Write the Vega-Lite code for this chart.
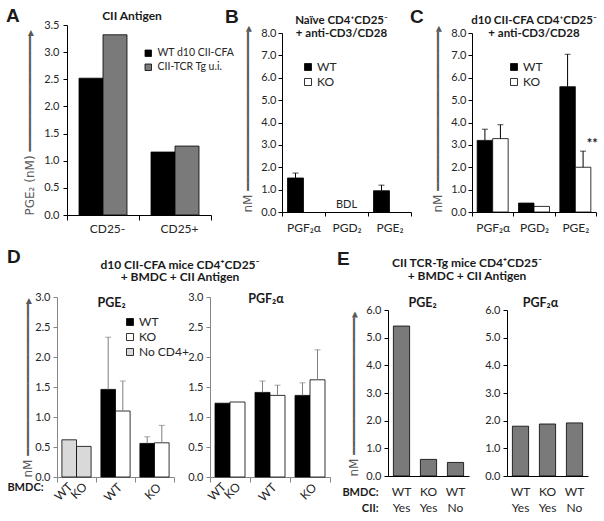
{
  "$schema": "https://vega.github.io/schema/vega-lite/v6.json",
  "padding": {"left": 6, "top": 7, "right": 0, "bottom": 0},
  "config": {
    "view": {"stroke": null},
    "font": "Lato",
    "axis": {"grid": false, "labelOverlap": false, "labelFont": "Lato", "titleFont": "DejaVu Sans", "labelColor": "#262626", "titleColor": "#595959", "labelFontSize": 11, "domainColor": "#000000", "tickColor": "#000000", "titleFontWeight": "normal"},
    "title": {"font": "Lato", "fontWeight": "bold", "color": "#1a1a1a", "fontSize": 12, "frame": "group", "baseline": "bottom"},
    "legend": {"labelFont": "Lato", "labelColor": "#262626"}
  },
  "bounds": "flush",
  "align": "each",
  "spacing": 272,
  "resolve": {"scale": {"fill": "independent"}, "legend": {"fill": "independent"}},
  "vconcat": [
    {
      "bounds": "flush", "align": "each", "spacing": 8,
      "resolve": {"scale": {"fill": "independent"}, "legend": {"fill": "independent"}},
      "vconcat": [
        {
          "bounds": "flush", "align": "each", "spacing": 0,
          "resolve": {"scale": {"fill": "independent"}, "legend": {"fill": "independent"}},
          "hconcat": [
            {"width": 55, "height": 190, "data": {"values": []}, "mark": "rect",
             "title": {"text": "A", "anchor": "start", "dx": -6, "offset": -1, "fontSize": 19, "font": "Liberation Sans"}},
            {
              "width": 144, "height": 190,
              "title": {"text": "CII Antigen", "dx": -7, "offset": -4},
              "data": {"values": [
                {"cells": "CD25-", "mice": "WT d10 CII-CFA", "pge2": 2.52},
                {"cells": "CD25-", "mice": "CII-TCR Tg u.i.", "pge2": 3.32},
                {"cells": "CD25+", "mice": "WT d10 CII-CFA", "pge2": 1.16},
                {"cells": "CD25+", "mice": "CII-TCR Tg u.i.", "pge2": 1.27}
              ]},
              "encoding": {
                "x": {"field": "cells", "type": "nominal", "scale": {"domain": ["CD25-", "CD25+"], "paddingInner": 0, "paddingOuter": 0},
                      "axis": {"title": null, "labelAngle": 0, "tickBand": "extent", "tickSize": 5, "labelPadding": 3, "labelFontSize": 12, "labelOffset": 4}},
                "y": {"field": "pge2", "type": "quantitative", "scale": {"domain": [0, 3.5]},
                      "axis": {"values": [0, 0.5, 1, 1.5, 2, 2.5, 3, 3.5], "format": ".1f", "tickSize": 4, "labelPadding": 4, "labelOverlap": false,
                               "title": "PGE₂ (nM) ━━━━━━━━━━━━━━━━▸", "titleAngle": 270, "titleAlign": "left", "titleBaseline": "middle", "titleX": -38, "titleY": 190, "titleFontSize": 12}},
                "fill": {"field": "mice", "type": "nominal", "scale": {"domain": ["WT d10 CII-CFA", "CII-TCR Tg u.i."], "range": ["#000000", "#7a7a7a"]},
                         "legend": {"title": null, "orient": "none", "legendX": 76, "legendY": 23, "symbolType": "square", "symbolSize": 42, "symbolStrokeColor": "#000000", "symbolStrokeWidth": 0.8, "labelFontSize": 10.5, "rowPadding": 3, "labelOffset": 4}}
              },
              "layer": [
                {"transform": [{"filter": "datum.mice == 'WT d10 CII-CFA'"}],
                 "mark": {"type": "bar", "stroke": "#000000", "strokeWidth": 0.8, "width": 24, "xOffset": -12}},
                {"transform": [{"filter": "datum.mice == 'CII-TCR Tg u.i.'"}],
                 "mark": {"type": "bar", "stroke": "#000000", "strokeWidth": 0.8, "width": 24, "xOffset": 12}}
              ]
            }
          ]
        },
        {
          "bounds": "flush", "align": "each", "spacing": 0,
          "resolve": {"scale": {"fill": "independent"}, "legend": {"fill": "independent"}},
          "hconcat": [
            {"width": 270, "height": 179, "data": {"values": []}, "mark": "rect",
             "title": {"text": "B", "anchor": "start", "dx": 213, "offset": 6, "fontSize": 19, "font": "Liberation Sans"}},
            {
              "width": 129, "height": 179,
              "title": {"text": ["Naïve CD4⁺CD25⁻", "+ anti-CD3/CD28"], "dx": -5, "offset": -14, "lineHeight": 13, "fontSize": 11.5},
              "data": {"values": [
                {"prostaglandin": "PGF₂α", "genotype": "WT", "value": 1.52, "upper": 1.74},
                {"prostaglandin": "PGE₂", "genotype": "WT", "value": 0.95, "upper": 1.2}
              ]},
              "encoding": {
                "x": {"field": "prostaglandin", "type": "nominal", "scale": {"domain": ["PGF₂α", "PGD₂", "PGE₂"], "paddingInner": 0, "paddingOuter": 0},
                      "axis": {"title": null, "labelAngle": 0, "tickBand": "extent", "tickSize": 4, "labelPadding": 6, "labelFontSize": 12}}
              },
              "layer": [
                {
                  "transform": [{"filter": "datum.genotype == 'WT'"}],
                  "mark": {"type": "bar", "stroke": "#000000", "strokeWidth": 0.8, "width": 16, "xOffset": -8},
                  "encoding": {
                    "y": {"field": "value", "type": "quantitative", "scale": {"domain": [0, 8]},
                          "axis": {"values": [0, 1, 2, 3, 4, 5, 6, 7, 8], "format": ".1f", "tickSize": 4, "labelPadding": 2, "labelOverlap": false,
                                   "title": "nM ━━━━━━━━━━━━━━━━━━━━━━▸", "titleAngle": 270, "titleAlign": "left", "titleBaseline": "middle", "titleX": -35, "titleY": 179, "titleFontSize": 12}},
                    "fill": {"field": "genotype", "type": "nominal", "scale": {"domain": ["WT", "KO"], "range": ["#000000", "#ffffff"]},
                             "legend": {"title": null, "orient": "none", "legendX": 20, "legendY": 28, "symbolType": "square", "symbolSize": 49, "symbolStrokeColor": "#000000", "symbolStrokeWidth": 0.8, "labelFontSize": 12, "rowPadding": 3, "labelOffset": 3}}
                  }
                },
                {
                  "transform": [{"filter": "datum.genotype == 'WT' && isValid(datum.upper)"}],
                  "mark": {"type": "rule", "color": "#000000", "strokeWidth": 1, "xOffset": -8},
                  "encoding": {
                    "y": {"field": "value", "type": "quantitative", "scale": {"domain": [0, 8]},
                          "axis": {"values": [0, 1, 2, 3, 4, 5, 6, 7, 8], "format": ".1f", "tickSize": 4, "labelPadding": 2, "labelOverlap": false,
                                   "title": "nM ━━━━━━━━━━━━━━━━━━━━━━▸", "titleAngle": 270, "titleAlign": "left", "titleBaseline": "middle", "titleX": -35, "titleY": 179, "titleFontSize": 12}},
                    "y2": {"field": "upper"}
                  }
                },
                {
                  "transform": [{"filter": "datum.genotype == 'WT' && isValid(datum.upper)"}],
                  "mark": {"type": "tick", "orient": "horizontal", "size": 6, "thickness": 1, "color": "#000000", "xOffset": -8},
                  "encoding": {
                    "y": {"field": "upper", "type": "quantitative", "scale": {"domain": [0, 8]},
                          "axis": {"values": [0, 1, 2, 3, 4, 5, 6, 7, 8], "format": ".1f", "tickSize": 4, "labelPadding": 2, "labelOverlap": false,
                                   "title": "nM ━━━━━━━━━━━━━━━━━━━━━━▸", "titleAngle": 270, "titleAlign": "left", "titleBaseline": "middle", "titleX": -35, "titleY": 179, "titleFontSize": 12}}
                  }
                },
                {
                  "data": {"values": [{"prostaglandin": "PGD₂", "note": "BDL"}]},
                  "mark": {"type": "text", "fontSize": 11, "color": "#262626", "baseline": "alphabetic", "dy": -4},
                  "encoding": {
                    "y": {"datum": 0, "type": "quantitative", "scale": {"domain": [0, 8]},
                          "axis": {"values": [0, 1, 2, 3, 4, 5, 6, 7, 8], "format": ".1f", "tickSize": 4, "labelPadding": 2, "labelOverlap": false,
                                   "title": "nM ━━━━━━━━━━━━━━━━━━━━━━▸", "titleAngle": 270, "titleAlign": "left", "titleBaseline": "middle", "titleX": -35, "titleY": 179, "titleFontSize": 12}},
                    "text": {"field": "note"}
                  }
                }
              ]
            },
            {"width": 61, "height": 179, "data": {"values": []}, "mark": "rect",
             "title": {"text": "C", "anchor": "start", "dx": -1, "offset": 6, "fontSize": 19, "font": "Liberation Sans"}},
            {
              "width": 124, "height": 179,
              "title": {"text": ["d10 CII-CFA CD4⁺CD25⁻", "+ anti-CD3/CD28"], "dx": 0, "offset": -14, "lineHeight": 13, "fontSize": 11.5},
              "data": {"values": [
                {"prostaglandin": "PGF₂α", "genotype": "WT", "value": 3.2, "upper": 3.7},
                {"prostaglandin": "PGF₂α", "genotype": "KO", "value": 3.28, "upper": 3.9},
                {"prostaglandin": "PGD₂", "genotype": "WT", "value": 0.4},
                {"prostaglandin": "PGD₂", "genotype": "KO", "value": 0.25},
                {"prostaglandin": "PGE₂", "genotype": "WT", "value": 5.6, "upper": 7.05},
                {"prostaglandin": "PGE₂", "genotype": "KO", "value": 2.0, "upper": 2.72, "note": "**"}
              ]},
              "encoding": {
                "x": {"field": "prostaglandin", "type": "nominal", "scale": {"domain": ["PGF₂α", "PGD₂", "PGE₂"], "paddingInner": 0, "paddingOuter": 0},
                      "axis": {"title": null, "labelAngle": 0, "tickBand": "extent", "tickSize": 4, "labelPadding": 6, "labelFontSize": 12}}
              },
              "layer": [
                {
                  "transform": [{"filter": "datum.genotype == 'WT'"}],
                  "mark": {"type": "bar", "stroke": "#000000", "strokeWidth": 0.8, "width": 15.5, "xOffset": -7.75},
                  "encoding": {
                    "y": {"field": "value", "type": "quantitative", "scale": {"domain": [0, 8]},
                          "axis": {"values": [0, 1, 2, 3, 4, 5, 6, 7, 8], "format": ".1f", "tickSize": 4, "labelPadding": 2, "labelOverlap": false,
                                   "title": "nM ━━━━━━━━━━━━━━━━━━━━━━▸", "titleAngle": 270, "titleAlign": "left", "titleBaseline": "middle", "titleX": -35, "titleY": 179, "titleFontSize": 12}},
                    "fill": {"field": "genotype", "type": "nominal", "scale": {"domain": ["WT", "KO"], "range": ["#000000", "#ffffff"]},
                             "legend": {"title": null, "orient": "none", "legendX": 36, "legendY": 28, "symbolType": "square", "symbolSize": 49, "symbolStrokeColor": "#000000", "symbolStrokeWidth": 0.8, "labelFontSize": 12, "rowPadding": 3, "labelOffset": 3}}
                  }
                },
                {
                  "transform": [{"filter": "datum.genotype == 'KO'"}],
                  "mark": {"type": "bar", "stroke": "#000000", "strokeWidth": 0.8, "width": 15.5, "xOffset": 7.75},
                  "encoding": {
                    "y": {"field": "value", "type": "quantitative", "scale": {"domain": [0, 8]},
                          "axis": {"values": [0, 1, 2, 3, 4, 5, 6, 7, 8], "format": ".1f", "tickSize": 4, "labelPadding": 2, "labelOverlap": false,
                                   "title": "nM ━━━━━━━━━━━━━━━━━━━━━━▸", "titleAngle": 270, "titleAlign": "left", "titleBaseline": "middle", "titleX": -35, "titleY": 179, "titleFontSize": 12}},
                    "fill": {"field": "genotype", "type": "nominal", "scale": {"domain": ["WT", "KO"], "range": ["#000000", "#ffffff"]},
                             "legend": {"title": null, "orient": "none", "legendX": 36, "legendY": 28, "symbolType": "square", "symbolSize": 49, "symbolStrokeColor": "#000000", "symbolStrokeWidth": 0.8, "labelFontSize": 12, "rowPadding": 3, "labelOffset": 3}}
                  }
                },
                {
                  "transform": [{"filter": "datum.genotype == 'WT' && isValid(datum.upper)"}],
                  "mark": {"type": "rule", "color": "#000000", "strokeWidth": 1, "xOffset": -7.75},
                  "encoding": {
                    "y": {"field": "value", "type": "quantitative", "scale": {"domain": [0, 8]},
                          "axis": {"values": [0, 1, 2, 3, 4, 5, 6, 7, 8], "format": ".1f", "tickSize": 4, "labelPadding": 2, "labelOverlap": false,
                                   "title": "nM ━━━━━━━━━━━━━━━━━━━━━━▸", "titleAngle": 270, "titleAlign": "left", "titleBaseline": "middle", "titleX": -35, "titleY": 179, "titleFontSize": 12}},
                    "y2": {"field": "upper"}
                  }
                },
                {
                  "transform": [{"filter": "datum.genotype == 'KO' && isValid(datum.upper)"}],
                  "mark": {"type": "rule", "color": "#000000", "strokeWidth": 1, "xOffset": 7.75},
                  "encoding": {
                    "y": {"field": "value", "type": "quantitative", "scale": {"domain": [0, 8]},
                          "axis": {"values": [0, 1, 2, 3, 4, 5, 6, 7, 8], "format": ".1f", "tickSize": 4, "labelPadding": 2, "labelOverlap": false,
                                   "title": "nM ━━━━━━━━━━━━━━━━━━━━━━▸", "titleAngle": 270, "titleAlign": "left", "titleBaseline": "middle", "titleX": -35, "titleY": 179, "titleFontSize": 12}},
                    "y2": {"field": "upper"}
                  }
                },
                {
                  "transform": [{"filter": "datum.genotype == 'WT' && isValid(datum.upper)"}],
                  "mark": {"type": "tick", "orient": "horizontal", "size": 6, "thickness": 1, "color": "#000000", "xOffset": -7.75},
                  "encoding": {
                    "y": {"field": "upper", "type": "quantitative", "scale": {"domain": [0, 8]},
                          "axis": {"values": [0, 1, 2, 3, 4, 5, 6, 7, 8], "format": ".1f", "tickSize": 4, "labelPadding": 2, "labelOverlap": false,
                                   "title": "nM ━━━━━━━━━━━━━━━━━━━━━━▸", "titleAngle": 270, "titleAlign": "left", "titleBaseline": "middle", "titleX": -35, "titleY": 179, "titleFontSize": 12}}
                  }
                },
                {
                  "transform": [{"filter": "datum.genotype == 'KO' && isValid(datum.upper)"}],
                  "mark": {"type": "tick", "orient": "horizontal", "size": 6, "thickness": 1, "color": "#000000", "xOffset": 7.75},
                  "encoding": {
                    "y": {"field": "upper", "type": "quantitative", "scale": {"domain": [0, 8]},
                          "axis": {"values": [0, 1, 2, 3, 4, 5, 6, 7, 8], "format": ".1f", "tickSize": 4, "labelPadding": 2, "labelOverlap": false,
                                   "title": "nM ━━━━━━━━━━━━━━━━━━━━━━▸", "titleAngle": 270, "titleAlign": "left", "titleBaseline": "middle", "titleX": -35, "titleY": 179, "titleFontSize": 12}}
                  }
                },
                {
                  "transform": [{"filter": "isValid(datum.note)"}],
                  "mark": {"type": "text", "fontSize": 13, "fontWeight": "bold", "color": "#1a1a1a", "baseline": "middle", "dy": -7, "xOffset": 17},
                  "encoding": {
                    "y": {"field": "upper", "type": "quantitative", "scale": {"domain": [0, 8]},
                          "axis": {"values": [0, 1, 2, 3, 4, 5, 6, 7, 8], "format": ".1f", "tickSize": 4, "labelPadding": 2, "labelOverlap": false,
                                   "title": "nM ━━━━━━━━━━━━━━━━━━━━━━▸", "titleAngle": 270, "titleAlign": "left", "titleBaseline": "middle", "titleX": -35, "titleY": 179, "titleFontSize": 12}},
                    "text": {"field": "note"}
                  }
                }
              ]
            }
          ]
        }
      ]
    },
    {
      "bounds": "flush", "align": "each", "spacing": 13,
      "resolve": {"scale": {"fill": "independent"}, "legend": {"fill": "independent"}},
      "vconcat": [
        {
          "bounds": "flush", "align": "each", "spacing": 0,
          "resolve": {"scale": {"fill": "independent"}, "legend": {"fill": "independent"}},
          "hconcat": [
            {"width": 45, "height": 180, "data": {"values": []}, "mark": "rect",
             "title": {"text": "D", "anchor": "start", "dx": -5, "offset": 30, "fontSize": 19, "font": "Liberation Sans"}},
            {
              "width": 117, "height": 180,
              "title": {"text": "PGE₂", "dx": -4, "offset": -18, "fontSize": 12.5},
              "data": {"values": [
                {"group": "No CD4+", "slot": "WT", "series": "No CD4+", "value": 0.62},
                {"group": "No CD4+", "slot": "KO", "series": "No CD4+", "value": 0.51},
                {"group": "BMDC WT", "slot": "WT", "series": "WT", "value": 1.46, "upper": 2.33},
                {"group": "BMDC WT", "slot": "KO", "series": "KO", "value": 1.1, "upper": 1.6},
                {"group": "BMDC KO", "slot": "WT", "series": "WT", "value": 0.56, "upper": 0.67},
                {"group": "BMDC KO", "slot": "KO", "series": "KO", "value": 0.57, "upper": 0.86}
              ]},
              "encoding": {
                "x": {"field": "group", "type": "nominal", "scale": {"domain": ["No CD4+", "BMDC WT", "BMDC KO"], "paddingInner": 0, "paddingOuter": 0},
                      "axis": {"labelExpr": "datum.value == 'BMDC WT' ? 'WT' : datum.value == 'BMDC KO' ? 'KO' : ''", "labelAngle": -45, "labelAlign": "right", "labelBaseline": "middle", "labelOffset": 4, "tickBand": "extent", "tickSize": 5, "labelPadding": 3, "labelFontSize": 12, "domainColor": "#868686", "tickColor": "#868686",
                               "title": "BMDC:", "titleFont": "Lato", "titleColor": "#1a1a1a", "titleX": -14, "titleY": 10, "titleAlign": "right", "titleBaseline": "middle", "titleAngle": 0, "titleFontWeight": "bold", "titleFontSize": 11}}
              },
              "layer": [
                {
                  "transform": [{"filter": "datum.slot == 'WT'"}],
                  "mark": {"type": "bar", "stroke": "#000000", "strokeWidth": 0.8, "width": 14.6, "xOffset": -7.3},
                  "encoding": {
                    "y": {"field": "value", "type": "quantitative", "scale": {"domain": [0, 3]},
                          "axis": {"values": [0, 0.5, 1, 1.5, 2, 2.5, 3], "format": ".1f", "tickSize": 4, "labelPadding": 3, "labelOverlap": false, "domainColor": "#868686", "tickColor": "#868686",
                                   "title": "nM ━━━━━━━━━━━━━━━━━━━━━▸", "titleAngle": 270, "titleAlign": "left", "titleBaseline": "middle", "titleX": -30, "titleY": 180, "titleFontSize": 12}},
                    "fill": {"field": "series", "type": "nominal", "scale": {"domain": ["WT", "KO", "No CD4+"], "range": ["#000000", "#ffffff", "#d9d9d9"]},
                             "legend": {"title": null, "orient": "none", "legendX": 67, "legendY": 19, "symbolType": "square", "symbolSize": 49, "symbolStrokeColor": "#000000", "symbolStrokeWidth": 0.8, "labelFontSize": 12, "rowPadding": 3, "labelOffset": 3}}
                  }
                },
                {
                  "transform": [{"filter": "datum.slot == 'KO'"}],
                  "mark": {"type": "bar", "stroke": "#000000", "strokeWidth": 0.8, "width": 14.6, "xOffset": 7.3},
                  "encoding": {
                    "y": {"field": "value", "type": "quantitative", "scale": {"domain": [0, 3]},
                          "axis": {"values": [0, 0.5, 1, 1.5, 2, 2.5, 3], "format": ".1f", "tickSize": 4, "labelPadding": 3, "labelOverlap": false, "domainColor": "#868686", "tickColor": "#868686",
                                   "title": "nM ━━━━━━━━━━━━━━━━━━━━━▸", "titleAngle": 270, "titleAlign": "left", "titleBaseline": "middle", "titleX": -30, "titleY": 180, "titleFontSize": 12}},
                    "fill": {"field": "series", "type": "nominal", "scale": {"domain": ["WT", "KO", "No CD4+"], "range": ["#000000", "#ffffff", "#d9d9d9"]},
                             "legend": {"title": null, "orient": "none", "legendX": 67, "legendY": 19, "symbolType": "square", "symbolSize": 49, "symbolStrokeColor": "#000000", "symbolStrokeWidth": 0.8, "labelFontSize": 12, "rowPadding": 3, "labelOffset": 3}}
                  }
                },
                {
                  "transform": [{"filter": "datum.slot == 'WT' && isValid(datum.upper)"}],
                  "mark": {"type": "rule", "color": "#7f7f7f", "strokeWidth": 1, "xOffset": -7.3},
                  "encoding": {
                    "y": {"field": "value", "type": "quantitative", "scale": {"domain": [0, 3]},
                          "axis": {"values": [0, 0.5, 1, 1.5, 2, 2.5, 3], "format": ".1f", "tickSize": 4, "labelPadding": 3, "labelOverlap": false, "domainColor": "#868686", "tickColor": "#868686",
                                   "title": "nM ━━━━━━━━━━━━━━━━━━━━━▸", "titleAngle": 270, "titleAlign": "left", "titleBaseline": "middle", "titleX": -30, "titleY": 180, "titleFontSize": 12}},
                    "y2": {"field": "upper"}
                  }
                },
                {
                  "transform": [{"filter": "datum.slot == 'KO' && isValid(datum.upper)"}],
                  "mark": {"type": "rule", "color": "#7f7f7f", "strokeWidth": 1, "xOffset": 7.3},
                  "encoding": {
                    "y": {"field": "value", "type": "quantitative", "scale": {"domain": [0, 3]},
                          "axis": {"values": [0, 0.5, 1, 1.5, 2, 2.5, 3], "format": ".1f", "tickSize": 4, "labelPadding": 3, "labelOverlap": false, "domainColor": "#868686", "tickColor": "#868686",
                                   "title": "nM ━━━━━━━━━━━━━━━━━━━━━▸", "titleAngle": 270, "titleAlign": "left", "titleBaseline": "middle", "titleX": -30, "titleY": 180, "titleFontSize": 12}},
                    "y2": {"field": "upper"}
                  }
                },
                {
                  "transform": [{"filter": "datum.slot == 'WT' && isValid(datum.upper)"}],
                  "mark": {"type": "tick", "orient": "horizontal", "size": 6, "thickness": 1, "color": "#7f7f7f", "xOffset": -7.3},
                  "encoding": {
                    "y": {"field": "upper", "type": "quantitative", "scale": {"domain": [0, 3]},
                          "axis": {"values": [0, 0.5, 1, 1.5, 2, 2.5, 3], "format": ".1f", "tickSize": 4, "labelPadding": 3, "labelOverlap": false, "domainColor": "#868686", "tickColor": "#868686",
                                   "title": "nM ━━━━━━━━━━━━━━━━━━━━━▸", "titleAngle": 270, "titleAlign": "left", "titleBaseline": "middle", "titleX": -30, "titleY": 180, "titleFontSize": 12}}
                  }
                },
                {
                  "transform": [{"filter": "datum.slot == 'KO' && isValid(datum.upper)"}],
                  "mark": {"type": "tick", "orient": "horizontal", "size": 6, "thickness": 1, "color": "#7f7f7f", "xOffset": 7.3},
                  "encoding": {
                    "y": {"field": "upper", "type": "quantitative", "scale": {"domain": [0, 3]},
                          "axis": {"values": [0, 0.5, 1, 1.5, 2, 2.5, 3], "format": ".1f", "tickSize": 4, "labelPadding": 3, "labelOverlap": false, "domainColor": "#868686", "tickColor": "#868686",
                                   "title": "nM ━━━━━━━━━━━━━━━━━━━━━▸", "titleAngle": 270, "titleAlign": "left", "titleBaseline": "middle", "titleX": -30, "titleY": 180, "titleFontSize": 12}}
                  }
                },
                {
                  "data": {"values": [{"group": "No CD4+", "label": "WT"}]},
                  "mark": {"type": "text", "angle": 315, "align": "right", "baseline": "middle", "fontSize": 12, "color": "#262626", "xOffset": -6},
                  "encoding": {
                    "y": {"datum": -0.13, "type": "quantitative", "scale": {"domain": [0, 3]},
                          "axis": {"values": [0, 0.5, 1, 1.5, 2, 2.5, 3], "format": ".1f", "tickSize": 4, "labelPadding": 3, "labelOverlap": false, "domainColor": "#868686", "tickColor": "#868686",
                                   "title": "nM ━━━━━━━━━━━━━━━━━━━━━▸", "titleAngle": 270, "titleAlign": "left", "titleBaseline": "middle", "titleX": -30, "titleY": 180, "titleFontSize": 12}},
                    "text": {"field": "label"}
                  }
                },
                {
                  "data": {"values": [{"group": "No CD4+", "label": "KO"}]},
                  "mark": {"type": "text", "angle": 315, "align": "right", "baseline": "middle", "fontSize": 12, "color": "#262626", "xOffset": 8.5},
                  "encoding": {
                    "y": {"datum": -0.13, "type": "quantitative", "scale": {"domain": [0, 3]},
                          "axis": {"values": [0, 0.5, 1, 1.5, 2, 2.5, 3], "format": ".1f", "tickSize": 4, "labelPadding": 3, "labelOverlap": false, "domainColor": "#868686", "tickColor": "#868686",
                                   "title": "nM ━━━━━━━━━━━━━━━━━━━━━▸", "titleAngle": 270, "titleAlign": "left", "titleBaseline": "middle", "titleX": -30, "titleY": 180, "titleFontSize": 12}},
                    "text": {"field": "label"}
                  }
                }
              ]
            },
            {"width": 36, "height": 180, "data": {"values": []}, "mark": "rect",
             "title": {"text": ["d10 CII-CFA mice CD4⁺CD25⁻", "+ BMDC + CII Antigen"], "dx": -12, "offset": 13, "lineHeight": 12.5, "fontSize": 12}},
            {
              "width": 120, "height": 180,
              "title": {"text": "PGF₂α", "dx": -4, "offset": -14, "fontSize": 12.5},
              "data": {"values": [
                {"group": "No CD4+", "slot": "WT", "series": "WT", "value": 1.23},
                {"group": "No CD4+", "slot": "KO", "series": "KO", "value": 1.25},
                {"group": "BMDC WT", "slot": "WT", "series": "WT", "value": 1.41, "upper": 1.6},
                {"group": "BMDC WT", "slot": "KO", "series": "KO", "value": 1.36, "upper": 1.53},
                {"group": "BMDC KO", "slot": "WT", "series": "WT", "value": 1.36, "upper": 1.57},
                {"group": "BMDC KO", "slot": "KO", "series": "KO", "value": 1.62, "upper": 2.12}
              ]},
              "encoding": {
                "x": {"field": "group", "type": "nominal", "scale": {"domain": ["No CD4+", "BMDC WT", "BMDC KO"], "paddingInner": 0, "paddingOuter": 0},
                      "axis": {"title": null, "labelExpr": "datum.value == 'BMDC WT' ? 'WT' : datum.value == 'BMDC KO' ? 'KO' : ''", "labelAngle": -45, "labelAlign": "right", "labelBaseline": "middle", "labelOffset": 4, "tickBand": "extent", "tickSize": 5, "labelPadding": 3, "labelFontSize": 12, "domainColor": "#868686", "tickColor": "#868686"}}
              },
              "layer": [
                {
                  "transform": [{"filter": "datum.slot == 'WT'"}],
                  "mark": {"type": "bar", "stroke": "#000000", "strokeWidth": 0.8, "width": 15, "xOffset": -7.5},
                  "encoding": {
                    "y": {"field": "value", "type": "quantitative", "scale": {"domain": [0, 3]},
                          "axis": {"title": null, "values": [0, 0.5, 1, 1.5, 2, 2.5, 3], "format": ".1f", "tickSize": 4, "labelPadding": 3, "labelOverlap": false, "domainColor": "#868686", "tickColor": "#868686"}},
                    "fill": {"field": "series", "type": "nominal", "scale": {"domain": ["WT", "KO"], "range": ["#000000", "#ffffff"]}, "legend": null}
                  }
                },
                {
                  "transform": [{"filter": "datum.slot == 'KO'"}],
                  "mark": {"type": "bar", "stroke": "#000000", "strokeWidth": 0.8, "width": 15, "xOffset": 7.5},
                  "encoding": {
                    "y": {"field": "value", "type": "quantitative", "scale": {"domain": [0, 3]},
                          "axis": {"title": null, "values": [0, 0.5, 1, 1.5, 2, 2.5, 3], "format": ".1f", "tickSize": 4, "labelPadding": 3, "labelOverlap": false, "domainColor": "#868686", "tickColor": "#868686"}},
                    "fill": {"field": "series", "type": "nominal", "scale": {"domain": ["WT", "KO"], "range": ["#000000", "#ffffff"]}, "legend": null}
                  }
                },
                {
                  "transform": [{"filter": "datum.slot == 'WT' && isValid(datum.upper)"}],
                  "mark": {"type": "rule", "color": "#7f7f7f", "strokeWidth": 1, "xOffset": -7.5},
                  "encoding": {
                    "y": {"field": "value", "type": "quantitative", "scale": {"domain": [0, 3]},
                          "axis": {"title": null, "values": [0, 0.5, 1, 1.5, 2, 2.5, 3], "format": ".1f", "tickSize": 4, "labelPadding": 3, "labelOverlap": false, "domainColor": "#868686", "tickColor": "#868686"}},
                    "y2": {"field": "upper"}
                  }
                },
                {
                  "transform": [{"filter": "datum.slot == 'KO' && isValid(datum.upper)"}],
                  "mark": {"type": "rule", "color": "#7f7f7f", "strokeWidth": 1, "xOffset": 7.5},
                  "encoding": {
                    "y": {"field": "value", "type": "quantitative", "scale": {"domain": [0, 3]},
                          "axis": {"title": null, "values": [0, 0.5, 1, 1.5, 2, 2.5, 3], "format": ".1f", "tickSize": 4, "labelPadding": 3, "labelOverlap": false, "domainColor": "#868686", "tickColor": "#868686"}},
                    "y2": {"field": "upper"}
                  }
                },
                {
                  "transform": [{"filter": "datum.slot == 'WT' && isValid(datum.upper)"}],
                  "mark": {"type": "tick", "orient": "horizontal", "size": 6, "thickness": 1, "color": "#7f7f7f", "xOffset": -7.5},
                  "encoding": {
                    "y": {"field": "upper", "type": "quantitative", "scale": {"domain": [0, 3]},
                          "axis": {"title": null, "values": [0, 0.5, 1, 1.5, 2, 2.5, 3], "format": ".1f", "tickSize": 4, "labelPadding": 3, "labelOverlap": false, "domainColor": "#868686", "tickColor": "#868686"}}
                  }
                },
                {
                  "transform": [{"filter": "datum.slot == 'KO' && isValid(datum.upper)"}],
                  "mark": {"type": "tick", "orient": "horizontal", "size": 6, "thickness": 1, "color": "#7f7f7f", "xOffset": 7.5},
                  "encoding": {
                    "y": {"field": "upper", "type": "quantitative", "scale": {"domain": [0, 3]},
                          "axis": {"title": null, "values": [0, 0.5, 1, 1.5, 2, 2.5, 3], "format": ".1f", "tickSize": 4, "labelPadding": 3, "labelOverlap": false, "domainColor": "#868686", "tickColor": "#868686"}}
                  }
                },
                {
                  "data": {"values": [{"group": "No CD4+", "label": "WT"}]},
                  "mark": {"type": "text", "angle": 315, "align": "right", "baseline": "middle", "fontSize": 12, "color": "#262626", "xOffset": -6},
                  "encoding": {
                    "y": {"datum": -0.13, "type": "quantitative", "scale": {"domain": [0, 3]},
                          "axis": {"title": null, "values": [0, 0.5, 1, 1.5, 2, 2.5, 3], "format": ".1f", "tickSize": 4, "labelPadding": 3, "labelOverlap": false, "domainColor": "#868686", "tickColor": "#868686"}},
                    "text": {"field": "label"}
                  }
                },
                {
                  "data": {"values": [{"group": "No CD4+", "label": "KO"}]},
                  "mark": {"type": "text", "angle": 315, "align": "right", "baseline": "middle", "fontSize": 12, "color": "#262626", "xOffset": 8.5},
                  "encoding": {
                    "y": {"datum": -0.13, "type": "quantitative", "scale": {"domain": [0, 3]},
                          "axis": {"title": null, "values": [0, 0.5, 1, 1.5, 2, 2.5, 3], "format": ".1f", "tickSize": 4, "labelPadding": 3, "labelOverlap": false, "domainColor": "#868686", "tickColor": "#868686"}},
                    "text": {"field": "label"}
                  }
                }
              ]
            }
          ]
        },
        {
          "bounds": "flush", "align": "each", "spacing": 0,
          "resolve": {"scale": {"fill": "independent"}, "legend": {"fill": "independent"}},
          "hconcat": [
            {"width": 376, "height": 166, "data": {"values": []}, "mark": "rect",
             "title": {"text": "E", "anchor": "start", "dx": 325, "offset": 41, "fontSize": 19, "font": "Liberation Sans"}},
            {
              "width": 81, "height": 166,
              "title": {"text": "PGE₂", "dx": -6, "offset": -5, "fontSize": 12.5},
              "data": {"values": [
                {"condition": "WT|Yes", "value": 5.42},
                {"condition": "KO|Yes", "value": 0.6},
                {"condition": "WT|No", "value": 0.49}
              ]},
              "mark": {"type": "bar", "stroke": "#000000", "strokeWidth": 0.8, "fill": "#7a7a7a"},
              "encoding": {
                "x": {"field": "condition", "type": "nominal", "scale": {"domain": ["WT|Yes", "KO|Yes", "WT|No"], "paddingInner": 0.4, "paddingOuter": 0.2},
                      "axis": {"labelExpr": "split(datum.label, '|')", "labelAngle": 0, "labelLineHeight": 16, "labelPadding": 10, "ticks": false, "tickSize": 0, "labelFontSize": 12, "labelBaseline": "top",
                               "title": ["BMDC:", "CII:"], "titleFont": "Lato", "titleColor": "#1a1a1a", "titleX": -10, "titleY": 10, "titleAlign": "right", "titleBaseline": "top", "titleAngle": 0, "titleFontWeight": "bold", "titleFontSize": 11, "titleLineHeight": 16}},
                "y": {"field": "value", "type": "quantitative", "scale": {"domain": [0, 6]},
                      "axis": {"values": [0, 1, 2, 3, 4, 5, 6], "format": ".1f", "tickSize": 4, "labelPadding": 3, "labelOverlap": false,
                               "title": "nM ━━━━━━━━━━━━━━━━━━━▸", "titleAngle": 270, "titleAlign": "left", "titleBaseline": "middle", "titleX": -35, "titleY": 166, "titleFontSize": 12}}
              }
            },
            {"width": 38, "height": 166, "data": {"values": []}, "mark": "rect",
             "title": {"text": ["CII TCR-Tg mice CD4⁺CD25⁻", "+ BMDC + CII Antigen"], "dx": -21, "offset": 27.5, "lineHeight": 12.5, "fontSize": 12}},
            {
              "width": 81, "height": 166,
              "title": {"text": "PGF₂α", "dx": -7, "offset": -5, "fontSize": 12.5},
              "data": {"values": [
                {"condition": "WT|Yes", "value": 1.8},
                {"condition": "KO|Yes", "value": 1.88},
                {"condition": "WT|No", "value": 1.92}
              ]},
              "mark": {"type": "bar", "stroke": "#000000", "strokeWidth": 0.8, "fill": "#7a7a7a"},
              "encoding": {
                "x": {"field": "condition", "type": "nominal", "scale": {"domain": ["WT|Yes", "KO|Yes", "WT|No"], "paddingInner": 0.4, "paddingOuter": 0.2},
                      "axis": {"title": null, "labelExpr": "split(datum.label, '|')", "labelAngle": 0, "labelLineHeight": 16, "labelPadding": 10, "ticks": false, "tickSize": 0, "labelFontSize": 12, "labelBaseline": "top"}},
                "y": {"field": "value", "type": "quantitative", "scale": {"domain": [0, 6]},
                      "axis": {"title": null, "values": [0, 1, 2, 3, 4, 5, 6], "format": ".1f", "tickSize": 4, "labelPadding": 3, "labelOverlap": false}}
              }
            }
          ]
        }
      ]
    }
  ]
}
